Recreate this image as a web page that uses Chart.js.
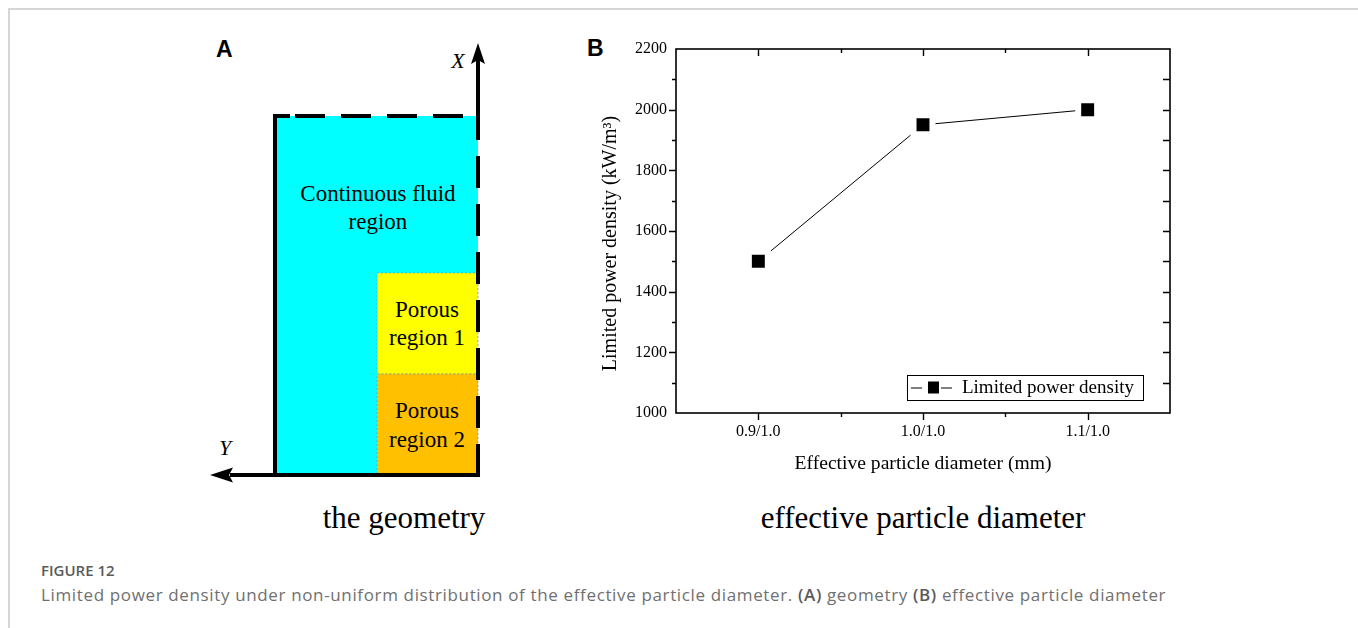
<!DOCTYPE html>
<html>
<head>
<meta charset="utf-8">
<title>Figure 12</title>
<script src="https://cdn.jsdelivr.net/npm/chart.js@4.4.1/dist/chart.umd.min.js"></script>
<style>
    html, body {
        margin: 0;
        padding: 0;
        background: #fff;
        width: 1358px;
        height: 628px;
        overflow: hidden;
        position: relative;
    }
    .frame {
        position: absolute;
        left: 8px;
        top: 8px;
        right: 0;
        bottom: 0;
        border-top: 2px solid #d6d6d6;
        border-left: 2px solid #d6d6d6;
    }
    #geometry {
        position: absolute;
        left: 0;
        top: 0;
    }
    #chartBox {
        position: absolute;
        left: 560px;
        top: 20px;
        width: 640px;
        height: 480px;
    }
    .sub {
        position: absolute;
        font-family: "Liberation Serif", "Times New Roman", serif;
        font-size: 31px;
        color: #000;
        white-space: nowrap;
        transform: translateX(-50%);
    }
    .panel {
        position: absolute;
        font-family: "Liberation Sans", Arial, sans-serif;
        font-weight: bold;
        font-size: 23px;
        color: #000;
    }
    .caption {
        position: absolute;
        left: 41px;
        top: 558px;
        font-family: "Open Sans", "Noto Sans", sans-serif;
        color: #707070;
        white-space: nowrap;
    }
    .caption .fig {
        font-size: 15px;
        font-weight: 600;
        color: #5a5a5a;
        line-height: 24px;
    }
    .caption .txt {
        font-size: 17px;
        letter-spacing: 0.64px;
        line-height: 26px;
    }
    .caption b {
        font-weight: 600;
        color: #5a5a5a;
    }
</style>
</head>
<body>
<div class="frame"></div>

<!-- panel A: computational domain -->
<svg id="geometry" width="560" height="628" viewBox="0 0 560 628">
    <rect x="275" y="116" width="203" height="359" fill="#00ffff"/>
    <rect x="377" y="273" width="101" height="101" fill="#ffff00" stroke="#6aa6a6" stroke-width="0.8" stroke-dasharray="2 2"/>
    <rect x="377" y="374" width="101" height="101" fill="#ffc000" stroke="#8a9a9a" stroke-width="0.8" stroke-dasharray="2 2"/>

    <!-- solid walls -->
    <line x1="275" y1="114" x2="275" y2="477" stroke="#000" stroke-width="4"/>
    <line x1="230" y1="475" x2="480" y2="475" stroke="#000" stroke-width="4"/>
    <polygon points="210,475 233,467.5 229,475 233,482.5" fill="#000"/>

    <!-- open boundaries -->
    <line x1="273" y1="116" x2="290" y2="116" stroke="#000" stroke-width="4"/>
    <line x1="295" y1="116" x2="478" y2="116" stroke="#000" stroke-width="4" stroke-dasharray="30 16"/>
    <line x1="478" y1="116" x2="478" y2="475" stroke="#000" stroke-width="4" stroke-dasharray="32 16" stroke-dashoffset="8"/>

    <!-- X axis arrow -->
    <line x1="478" y1="118" x2="478" y2="60" stroke="#000" stroke-width="4"/>
    <polygon points="478,43 471,64 478,60 485,64" fill="#000"/>

    <g font-family="Liberation Serif, Times New Roman, serif" fill="#000" text-anchor="middle">
        <text x="458" y="68" font-size="22" font-style="italic">X</text>
        <text x="225" y="455" font-size="22" font-style="italic">Y</text>
        <text x="378" y="201" font-size="23">Continuous fluid</text>
        <text x="378" y="229" font-size="23">region</text>
        <text x="427" y="317" font-size="23">Porous</text>
        <text x="427" y="345" font-size="23">region 1</text>
        <text x="427" y="418" font-size="23">Porous</text>
        <text x="427" y="447" font-size="23">region 2</text>
    </g>
</svg>

<div class="panel" style="left:216px; top:36px;">A</div>
<div class="panel" style="left:587px; top:35px;">B</div>

<div id="chartBox"><canvas id="densityChart" width="640" height="480"></canvas></div>

<div class="sub" style="left:404px; top:500px;">the geometry</div>
<div class="sub" style="left:923px; top:500px;">effective particle diameter</div>

<div class="caption">
    <div class="fig">FIGURE 12</div>
    <div class="txt">Limited power density under non-uniform distribution of the effective particle diameter. <b>(A)</b> geometry <b>(B)</b> effective particle diameter</div>
</div>

<script>
// diameter ratios (porous region 1 / porous region 2)
const diameterLabels = ['0.9/1.0', '1.0/1.0', '1.1/1.0'];
const diameterPos = [1, 2, 3];
const powerDensity = [1500, 1950, 2000];
const yTickValues = [1000, 1200, 1400, 1600, 1800, 2000, 2200];
const seriesName = 'Limited power density';

const SERIF = '"Liberation Serif", "Times New Roman", serif';

// Origin-style box: frame on all four sides, major + minor ticks
const frameTicks = {
    id: 'frameTicks',
    afterDraw(chart) {
        const { ctx, chartArea: a, scales } = chart;
        const xs = scales.x, ys = scales.y;
        ctx.save();
        ctx.strokeStyle = '#000';
        ctx.lineWidth = 1.6;
        ctx.strokeRect(a.left, a.top, a.right - a.left, a.bottom - a.top);

        ctx.lineWidth = 1.4;
        ctx.beginPath();
        for (let v = ys.min + 100; v < ys.max; v += 100) {
            const y = Math.round(ys.getPixelForValue(v)) + 0.5;
            const major = v % 200 === 0;
            ctx.moveTo(a.left, y);
            ctx.lineTo(a.left - (major ? 7 : 4), y);
            ctx.moveTo(a.right, y);
            ctx.lineTo(a.right - 7, y);
        }
        for (let v = xs.min + 0.5; v < xs.max; v += 0.5) {
            const x = Math.round(xs.getPixelForValue(v)) + 0.5;
            const major = Number.isInteger(v);
            ctx.moveTo(x, a.bottom);
            ctx.lineTo(x, a.bottom + (major ? 7 : 4));
            ctx.moveTo(x, a.top);
            ctx.lineTo(x, a.top + (major ? 7 : 4));
        }
        ctx.stroke();
        ctx.restore();
    }
};

// legend drawn inside the plot, lower right corner
const insideLegend = {
    id: 'insideLegend',
    afterDraw(chart) {
        const { ctx, chartArea: a } = chart;
        const label = chart.data.datasets[0].label;
        ctx.save();
        ctx.font = '19px ' + SERIF;
        const textW = ctx.measureText(label).width;
        const sampleW = 55;
        const w = sampleW + textW + 9;
        const h = 25;
        const right = a.right - 27;
        const bottom = a.bottom - 13;
        const left = right - w;
        const top = bottom - h;
        const cy = top + h / 2;

        ctx.fillStyle = '#fff';
        ctx.fillRect(left, top, w, h);
        ctx.strokeStyle = '#000';
        ctx.lineWidth = 1;
        ctx.strokeRect(left + 0.5, top + 0.5, w, h);

        ctx.beginPath();
        ctx.moveTo(left + 4, cy + 0.5);
        ctx.lineTo(left + 15, cy + 0.5);
        ctx.moveTo(left + 34, cy + 0.5);
        ctx.lineTo(left + 45, cy + 0.5);
        ctx.stroke();
        ctx.fillStyle = '#000';
        ctx.fillRect(left + 21, cy - 6, 11, 12);

        ctx.textBaseline = 'middle';
        ctx.fillText(label, left + sampleW, cy + 1);
        ctx.restore();
    }
};

const chart = new Chart(document.getElementById('densityChart'), {
    type: 'line',
    data: {
        datasets: [{
            label: seriesName,
            data: powerDensity.map((v, i) => ({ x: diameterPos[i], y: v })),
            borderColor: '#000',
            borderWidth: 1,
            tension: 0,
            pointStyle: 'rect',
            pointRadius: 13.4,
            pointBackgroundColor: '#000',
            pointBorderColor: '#fff',
            pointBorderWidth: 6
        }]
    },
    options: {
        responsive: false,
        devicePixelRatio: 1,
        animation: false,
        events: [],
        layout: {
            padding: { left: 0, top: 29, right: 30, bottom: 0 }
        },
        plugins: {
            legend: { display: false },
            tooltip: { enabled: false }
        },
        scales: {
            x: {
                type: 'linear',
                min: 0.5,
                max: 3.5,
                afterBuildTicks: (scale) => {
                    scale.ticks = diameterPos.map(v => ({ value: v }));
                },
                afterFit: (scale) => {
                    scale.height = 87;
                },
                grid: { display: false, drawTicks: false },
                border: { display: false },
                ticks: {
                    autoSkip: false,
                    maxRotation: 0,
                    padding: 9,
                    color: '#000',
                    font: { family: SERIF, size: 16 },
                    callback: (v) => diameterLabels[diameterPos.indexOf(v)]
                },
                title: {
                    display: true,
                    text: 'Effective particle diameter (mm)',
                    color: '#000',
                    font: { family: SERIF, size: 19.6 },
                    padding: { top: 0, bottom: 24 }
                }
            },
            y: {
                min: 1000,
                max: 2200,
                afterBuildTicks: (scale) => {
                    scale.ticks = yTickValues.map(v => ({ value: v }));
                },
                afterFit: (scale) => {
                    scale.width = 116;
                },
                grid: { display: false, drawTicks: false },
                border: { display: false },
                ticks: {
                    padding: 9,
                    color: '#000',
                    font: { family: SERIF, size: 16 },
                    callback: (v) => String(v)
                },
                title: {
                    display: true,
                    // trailing spaces push the centred text toward the bottom of the axis
                    text: 'Limited power density (kW/m³)     ',
                    color: '#000',
                    font: { family: SERIF, size: 20 },
                    padding: { top: 39, bottom: 0 }
                }
            }
        }
    },
    plugins: [frameTicks, insideLegend]
});
</script>
</body>
</html>
